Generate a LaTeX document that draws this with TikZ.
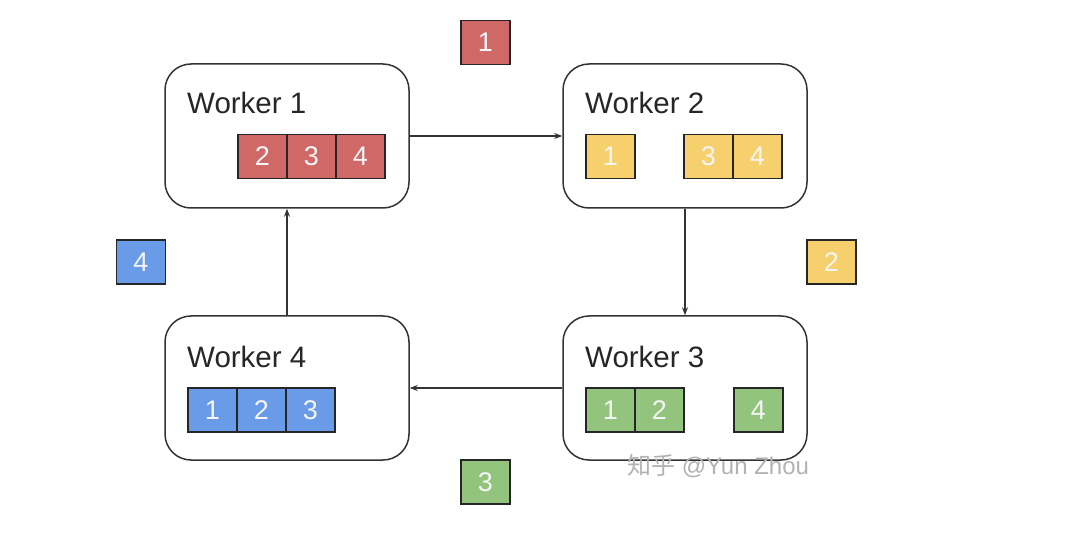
\documentclass[tikz,border=0pt]{standalone}
\usepackage{fontspec}
\setmainfont{Liberation Sans}
\newfontfamily\cjk{Noto Sans CJK SC}
\usetikzlibrary{arrows.meta}
\definecolor{cred}{HTML}{D06868}
\definecolor{cyel}{HTML}{F5D06C}
\definecolor{cblu}{HTML}{6A9BE8}
\definecolor{cgrn}{HTML}{93C47D}
\definecolor{edge}{HTML}{333333}
\tikzset{
  worker/.style={draw=edge, line width=1.5pt, rounded corners=26pt, minimum width=244pt, minimum height=144pt, inner sep=0pt},
  wlabel/.style={anchor=base west, inner sep=0pt, text=black!85, font=\fontsize{29.5}{34}\selectfont},
  cell/.style={draw=black!85, line width=1.2pt, minimum width=49pt, minimum height=44pt, inner sep=0pt, text=white!96!black, font=\fontsize{27}{32}\selectfont},
  arr/.style={draw=edge, line width=1.3pt, -{Stealth[length=8pt,width=6pt]}},
}
\begin{document}
\begin{tikzpicture}[x=1pt,y=-1pt]
\useasboundingbox (0,0) rectangle (1072,548);
\fill[white] (0,0) rectangle (1072,548);
% workers
\node[worker] (w1) at (287,136) {};
\node[worker] (w2) at (685,136) {};
\node[worker] (w3) at (685,388) {};
\node[worker] (w4) at (287,388) {};
\node[wlabel] (l1) at (187,114) {Worker 1};
\node[wlabel] (l2) at (585,114) {Worker 2};
\node[wlabel] (l3) at (585,367) {Worker 3};
\node[wlabel] (l4) at (187,367) {Worker 4};
% cells worker 1
\node[cell, fill=cred] (a2) at (262.5,156.5) {2};
\node[cell, fill=cred] (a3) at (311.5,156.5) {3};
\node[cell, fill=cred] (a4) at (360.5,156.5) {4};
% cells worker 2
\node[cell, fill=cyel] (b1) at (610.5,156.5) {1};
\node[cell, fill=cyel] (b3) at (708.5,156.5) {3};
\node[cell, fill=cyel] (b4) at (757.5,156.5) {4};
% cells worker 3
\node[cell, fill=cgrn] (c1) at (610.5,410) {1};
\node[cell, fill=cgrn] (c2) at (659.5,410) {2};
\node[cell, fill=cgrn] (c4) at (758.5,410) {4};
% cells worker 4
\node[cell, fill=cblu] (d1) at (212.5,410) {1};
\node[cell, fill=cblu] (d2) at (261.5,410) {2};
\node[cell, fill=cblu] (d3) at (310.5,410) {3};
% floating chunks
\node[cell, fill=cred] (f1) at (485.5,42.5) {1};
\node[cell, fill=cyel] (f2) at (831.5,262) {2};
\node[cell, fill=cgrn] (f3) at (485.5,482) {3};
\node[cell, fill=cblu] (f4) at (141,262) {4};
% arrows
\draw[arr] (w1) -- (w2);
\draw[arr] (w2) -- (w3);
\draw[arr] (w3) -- (w4);
\draw[arr] (w4) -- (w1);
% watermark
\node[anchor=west, inner sep=0pt, text=black!30, font=\fontsize{24}{28}\selectfont] (wm) at (627,466) {{\cjk 知乎} @Yun Zhou};
\end{tikzpicture}
\end{document}
